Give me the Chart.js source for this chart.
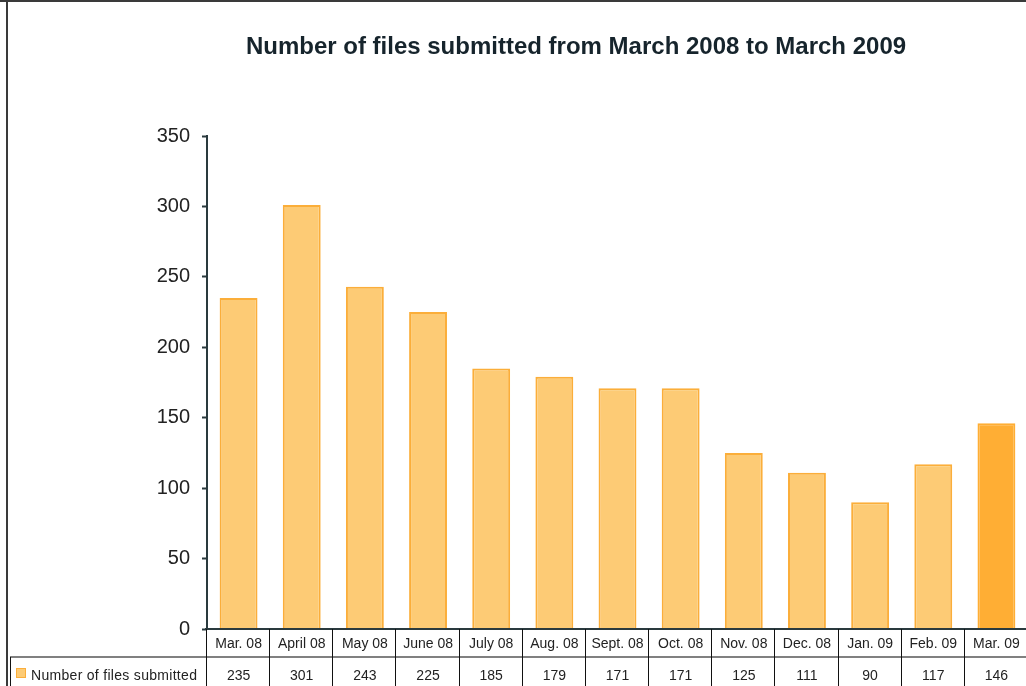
<!DOCTYPE html>
<html>
<head>
<meta charset="utf-8">
<script src="https://cdn.jsdelivr.net/npm/chart.js@4/dist/chart.umd.min.js"></script>
<style>
  html, body { margin: 0; padding: 0; background: #fff; overflow: hidden; }
  #wrap { width: 1040px; height: 700px; }
</style>
</head>
<body>
<div id="wrap"><canvas id="c" width="1040" height="700"></canvas></div>
<script>
// data
const months = ["Mar. 08", "April 08", "May 08", "June 08", "July 08", "Aug. 08", "Sept. 08",
                "Oct. 08", "Nov. 08", "Dec. 08", "Jan. 09", "Feb. 09", "Mar. 09"];
const filesSubmitted = [235, 301, 243, 225, 185, 179, 171, 171, 125, 111, 90, 117, 146];
const yTicks = [0, 50, 100, 150, 200, 250, 300, 350];
const seriesName = "Number of files submitted";
const chartTitle = "Number of files submitted from March 2008 to March 2009";

const FONT = "'Liberation Sans', Arial, sans-serif";
const lightFill = "#fdcb75", lightBorder = "#fbae3a", darkFill = "#ffae34";

// title, frame and data table underneath the bars
const tablePlugin = {
  id: "tablePlugin",
  afterDraw(chart) {
    const { ctx } = chart;
    const x = chart.scales.x;
    const area = chart.chartArea;
    const n = months.length;
    const colW = (area.right - area.left) / n;
    const headTop = area.bottom, headBot = area.bottom + 28, rowBot = headBot + 40;
    ctx.save();

    // outer frame (cropped)
    ctx.fillStyle = "#3a3a3a";
    ctx.fillRect(0, 0, chart.width, 2);
    ctx.fillRect(6, 0, 2, chart.height);

    // title
    ctx.fillStyle = "#16242c";
    ctx.font = "bold 24px " + FONT;
    ctx.textAlign = "center";
    ctx.textBaseline = "middle";
    ctx.fillText(chartTitle, 576, 47);

    // axis line along the bottom
    ctx.fillStyle = "#2a3a3e";
    ctx.fillRect(area.left - 2, headTop - 1, area.right - area.left + 2, 2);

    // row separator
    ctx.fillStyle = "#808080";
    ctx.fillRect(10, headBot - 1, area.right - 10, 2);

    // column borders
    ctx.fillStyle = "#111";
    for (let i = 0; i <= n; i++) {
      const bx = Math.round(area.left + i * colW);
      ctx.fillRect(bx - 1, headTop, 1, rowBot - headTop);
    }
    ctx.fillRect(10, headBot, 1, rowBot - headBot);

    // header + values
    ctx.fillStyle = "#222";
    ctx.font = "14px " + FONT;
    months.forEach((m, i) => {
      const cx = x.getPixelForValue(i);
      ctx.fillText(m, cx, headTop + 15);
      ctx.fillText(String(filesSubmitted[i]), cx, headBot + 19);
    });

    // legend key in table
    ctx.fillStyle = lightFill;
    ctx.strokeStyle = lightBorder;
    ctx.lineWidth = 1;
    ctx.fillRect(16, headBot + 11, 10, 10);
    ctx.strokeRect(16.5, headBot + 11.5, 9, 9);
    ctx.fillStyle = "#222";
    ctx.textAlign = "left";
    ctx.font = "14px " + FONT;
    ctx.letterSpacing = "0.3px";
    ctx.fillText(seriesName, 31, headBot + 19);
    ctx.restore();
  }
};

new Chart(document.getElementById("c"), {
  type: "bar",
  data: {
    labels: months,
    datasets: [{
      label: seriesName,
      data: filesSubmitted,
      backgroundColor: filesSubmitted.map((v, i) => i === filesSubmitted.length - 1 ? darkFill : lightFill),
      borderColor: filesSubmitted.map((v, i) => i === filesSubmitted.length - 1 ? darkFill : lightBorder),
      borderWidth: 2,
      borderSkipped: "bottom",
      categoryPercentage: 1,
      barPercentage: 0.6
    }]
  },
  options: {
    responsive: false,
    animation: false,
    layout: { padding: { top: 136, right: 12, bottom: 71, left: 0 } },
    plugins: {
      legend: { display: false },
      title: { display: false },
      tooltip: { enabled: false }
    },
    scales: {
      x: { display: false },
      y: {
        min: 0,
        max: 350,
        afterFit: (s) => { s.width = 207; },
        afterBuildTicks: (s) => { s.ticks = yTicks.map(v => ({ value: v })); },
        border: { display: true, color: "#2a3a3e", width: 2 },
        grid: { drawOnChartArea: false, tickLength: 5, color: "#2a3a3e", tickWidth: 2 },
        ticks: { color: "#222", padding: 12, font: { family: FONT, size: 20 } }
      }
    }
  },
  plugins: [tablePlugin]
});
</script>
</body>
</html>
